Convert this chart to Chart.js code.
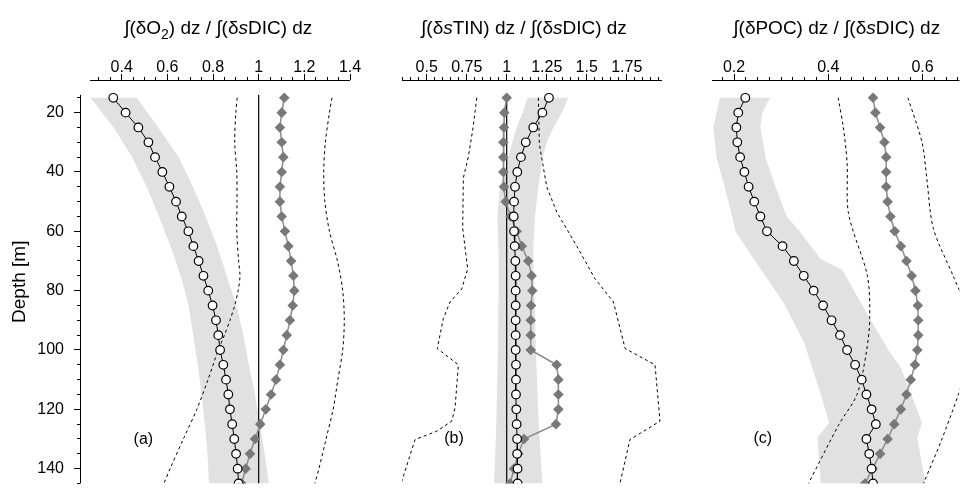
<!DOCTYPE html>
<html lang="en">

<head>
    <meta charset="UTF-8" />
    <title>Depth profiles</title>
    <script src="https://cdn.jsdelivr.net/npm/chart.js"></script>
    <style>
        body { margin: 0; background: #fff; }
        .panel { position: absolute; top: 0; }
    </style>
</head>

<body>
    <canvas id="panelA" class="panel" width="365" height="489" style="left:0px"></canvas>
    <canvas id="panelB" class="panel" width="300" height="489" style="left:380px"></canvas>
    <canvas id="panelC" class="panel" width="275" height="489" style="left:690px"></canvas>

<script>
    const FONT = '"Liberation Sans", Arial, Helvetica, sans-serif';

    // depth of the profile points (m)
    const depths = [15, 20, 25, 30, 35, 40, 45, 50, 55, 60, 65, 70, 75, 80, 85, 90, 95, 100, 105, 110, 115, 120, 125, 130, 135, 140, 145];
    const depthMajors = [20, 40, 60, 80, 100, 120, 140];

    // panel (a) O2
    const o2Circles = [0.363, 0.417, 0.473, 0.517, 0.546, 0.578, 0.609, 0.638, 0.663, 0.692, 0.714, 0.737, 0.758, 0.779, 0.798, 0.813, 0.823, 0.831, 0.845, 0.857, 0.867, 0.874, 0.884, 0.893, 0.901, 0.908, 0.912];
    const o2Diamonds = [1.112, 1.101, 1.093, 1.101, 1.108, 1.101, 1.093, 1.093, 1.101, 1.115, 1.130, 1.142, 1.152, 1.156, 1.149, 1.137, 1.123, 1.108, 1.093, 1.076, 1.054, 1.031, 1.007, 0.984, 0.962, 0.943, 0.925];
    const bandDepthA = [15, 25, 35, 45, 55, 65, 75, 85, 95, 105, 115, 125, 135, 145];
    const bandLoA = [0.263, 0.365, 0.446, 0.509, 0.563, 0.614, 0.658, 0.693, 0.713, 0.733, 0.750, 0.764, 0.776, 0.782];
    const bandHiA = [0.466, 0.560, 0.650, 0.712, 0.768, 0.818, 0.860, 0.903, 0.933, 0.957, 0.984, 1.004, 1.026, 1.045];
    const dashLoDepthA = [15, 20, 30, 40, 50, 60, 70, 75, 80, 85, 90, 95, 100, 110, 120, 130, 140, 145];
    const dashLoA = [0.906, 0.900, 0.895, 0.904, 0.905, 0.904, 0.912, 0.918, 0.910, 0.895, 0.874, 0.850, 0.823, 0.778, 0.729, 0.670, 0.612, 0.585];
    const dashHiDepthA = [15, 20, 30, 40, 50, 60, 70, 80, 90, 100, 110, 120, 130, 140, 145];
    const dashHiA = [1.321, 1.310, 1.292, 1.285, 1.290, 1.310, 1.345, 1.368, 1.375, 1.368, 1.347, 1.326, 1.295, 1.264, 1.246];
    const majorsA = [0.4, 0.6, 0.8, 1, 1.2, 1.4];

    // panel (b) TIN
    const tinCircles = [1.264, 1.223, 1.166, 1.119, 1.089, 1.066, 1.052, 1.046, 1.044, 1.046, 1.050, 1.054, 1.056, 1.056, 1.056, 1.056, 1.056, 1.056, 1.058, 1.058, 1.058, 1.060, 1.062, 1.065, 1.065, 1.068, 1.068];
    const tinDiamonds = [1.000, 0.985, 0.983, 0.979, 0.979, 0.979, 0.983, 0.994, 1.025, 1.062, 1.094, 1.135, 1.156, 1.160, 1.152, 1.150, 1.150, 1.150, 1.312, 1.323, 1.323, 1.323, 1.308, 1.108, 1.073, 1.046, 1.021];
    const bandDepthB = [15, 20, 25, 30, 35, 45, 55, 65, 75, 100, 125, 145];
    const bandLoB = [1.131, 1.100, 1.062, 1.035, 1.010, 0.958, 0.942, 0.948, 0.950, 0.945, 0.935, 0.921];
    const bandHiB = [1.385, 1.344, 1.292, 1.250, 1.225, 1.198, 1.177, 1.167, 1.170, 1.182, 1.200, 1.223];
    const dashLoDepthB = [15, 25, 35, 42, 59, 72.7, 79.4, 83.8, 89.4, 99.5, 105, 119.6, 124, 127.4, 130.2, 145];
    const dashLoB = [0.813, 0.790, 0.760, 0.729, 0.725, 0.756, 0.719, 0.646, 0.604, 0.566, 0.698, 0.677, 0.656, 0.562, 0.427, 0.340];
    const dashHiDepthB = [15, 30.6, 45, 53.5, 65, 76, 83.8, 99.5, 105, 124, 130.2, 145];
    const dashHiB = [1.198, 1.204, 1.250, 1.313, 1.438, 1.552, 1.667, 1.740, 1.927, 1.958, 1.770, 1.708];
    const majorsB = [0.5, 0.75, 1, 1.25, 1.5, 1.75];

    // panel (c) POC
    const pocCircles = [0.224, 0.209, 0.205, 0.207, 0.213, 0.222, 0.231, 0.243, 0.256, 0.270, 0.303, 0.327, 0.348, 0.369, 0.389, 0.407, 0.425, 0.440, 0.457, 0.471, 0.481, 0.492, 0.501, 0.481, 0.487, 0.492, 0.495];
    const pocDiamonds = [0.495, 0.500, 0.510, 0.519, 0.523, 0.523, 0.523, 0.526, 0.532, 0.541, 0.554, 0.566, 0.577, 0.585, 0.590, 0.591, 0.591, 0.589, 0.584, 0.575, 0.566, 0.554, 0.540, 0.526, 0.510, 0.494, 0.478];
    const bandLoDepthC = [15, 25, 35, 45, 55, 60, 70, 84, 98, 115, 124.5, 129.5, 145];
    const bandLoC = [0.170, 0.156, 0.163, 0.180, 0.196, 0.203, 0.245, 0.305, 0.350, 0.384, 0.402, 0.377, 0.384];
    const bandHiDepthC = [15, 20, 25, 35, 45, 55, 60, 69.3, 73, 89.4, 100.6, 106, 124.5, 129.5, 145];
    const bandHiC = [0.276, 0.260, 0.256, 0.267, 0.288, 0.312, 0.339, 0.384, 0.430, 0.488, 0.530, 0.554, 0.599, 0.589, 0.606];
    const dashLoDepthC = [15, 25, 37, 54, 75, 89.4, 100.6, 115, 125, 145];
    const dashLoC = [0.421, 0.432, 0.440, 0.443, 0.483, 0.488, 0.481, 0.461, 0.423, 0.358];
    const dashHiDepthC = [15, 30, 42, 59, 75, 85, 95, 105, 115, 130.5, 145];
    const dashHiC = [0.569, 0.599, 0.609, 0.623, 0.665, 0.690, 0.700, 0.695, 0.676, 0.640, 0.602];
    const majorsC = [0.2, 0.4, 0.6];

    const pts = (xs, ys) => xs.map((v, i) => ({ x: v, y: ys[i] }));
    const isMajor = (list, v) => list.some(m => Math.abs(m - v) < 1e-6);

    function stepTicks(from, to, step) {
        const out = [];
        const n = Math.round((to - from) / step);
        for (let i = 0; i <= n; i++) out.push(Math.round((from + i * step) * 1000) / 1000);
        return out;
    }

    // minor ticks: only the inner 3px of the 6px tick is drawn
    const MINOR_DASH = [0, 3, 3, 20];

    function circles(xs) {
        return {
            data: pts(xs, depths), showLine: true, borderColor: '#000', borderWidth: 1,
            pointStyle: 'circle', pointRadius: 4.3, pointBackgroundColor: '#fff',
            pointBorderColor: '#000', pointBorderWidth: 1.2
        };
    }
    function diamonds(xs) {
        return {
            data: pts(xs, depths), showLine: true, borderColor: '#8c8c8c', borderWidth: 1.5,
            pointStyle: 'rectRot', pointRadius: 5.3, pointBackgroundColor: '#787878',
            pointBorderColor: '#787878', pointBorderWidth: 0
        };
    }
    function dashed(xs, ys, tension) {
        return {
            data: pts(xs, ys), showLine: true, borderColor: '#000', borderWidth: 1,
            borderDash: [3, 3], pointRadius: 0, tension: tension
        };
    }
    function band(lo, loDepth, hi, hiDepth) {
        const poly = pts(lo, loDepth).concat(pts(hi, hiDepth).reverse());
        return {
            data: poly, showLine: true, borderColor: 'rgba(0,0,0,0)', borderWidth: 0,
            pointRadius: 0, fill: 'shape', backgroundColor: '#e1e1e1'
        };
    }
    function unitLine() {
        return {
            data: [{ x: 1, y: 14 }, { x: 1, y: 145 }], showLine: true,
            borderColor: '#000', borderWidth: 1.2, pointRadius: 0
        };
    }

    // axis lines, rich-text titles and panel tags
    const panelText = {
        id: 'panelText',
        afterDraw(chart, args, opts) {
            const { ctx, chartArea } = chart;
            const xs = chart.scales.x, ys = chart.scales.y;
            ctx.save();
            ctx.strokeStyle = '#000';
            ctx.lineWidth = 1;
            ctx.beginPath();
            const top = Math.round(chartArea.top) + 0.5;
            ctx.moveTo(xs.getPixelForValue(opts.spineFrom), top);
            ctx.lineTo(chartArea.right, top);
            if (opts.ySpine) {
                const left = Math.round(chartArea.left) + 0.5;
                ctx.moveTo(left, ys.getPixelForValue(opts.ySpine[0]));
                ctx.lineTo(left, ys.getPixelForValue(opts.ySpine[1]));
            }
            ctx.stroke();

            ctx.fillStyle = '#000';
            ctx.textBaseline = 'alphabetic';
            ctx.textAlign = 'left';
            const size = opts.titleSize;
            const fontFor = kind => kind === 'italic' ? `italic ${size}px ${FONT}`
                : kind === 'sub' ? `${Math.round(size * 0.75)}px ${FONT}` : `${size}px ${FONT}`;
            let total = 0;
            opts.title.forEach(([t, kind]) => { ctx.font = fontFor(kind); total += ctx.measureText(t).width; });
            let x = xs.getPixelForValue(opts.titleAt) - total / 2;
            opts.title.forEach(([t, kind]) => {
                ctx.font = fontFor(kind);
                ctx.fillText(t, x, opts.titleBase + (kind === 'sub' ? 5 : 0));
                x += ctx.measureText(t).width;
            });

            ctx.font = `16px ${FONT}`;
            ctx.textAlign = 'center';
            ctx.textBaseline = 'middle';
            ctx.fillText(opts.tag, xs.getPixelForValue(opts.tagAt[0]), ys.getPixelForValue(opts.tagAt[1]));
            ctx.restore();
        }
    };

    function makePanel(id, p) {
        const xTicks = p.xTicks;
        const yTicks = stepTicks(15, 145, 5);
        return new Chart(document.getElementById(id), {
            type: 'scatter',
            data: { datasets: p.datasets },
            options: {
                responsive: false,
                animation: false,
                events: [],
                layout: { padding: p.padding },
                scales: {
                    x: {
                        type: 'linear', position: 'top', min: p.xMin, max: p.xMax,
                        afterBuildTicks: s => { s.ticks = xTicks.map(v => ({ value: v })); },
                        afterFit: s => { s.height = 80; s.paddingLeft = 0; s.paddingRight = 0; },
                        ticks: {
                            autoSkip: false, maxRotation: 0, minRotation: 0, padding: -2, color: '#000',
                            font: { family: FONT, size: 16, lineHeight: 1 },
                            callback: v => isMajor(p.majors, v) ? String(v) : ''
                        },
                        grid: {
                            drawOnChartArea: false, tickLength: 6, tickColor: '#000', tickWidth: 1,
                            tickBorderDash: c => (c.tick && !isMajor(p.majors, c.tick.value)) ? MINOR_DASH : []
                        },
                        border: { display: false }
                    },
                    y: {
                        type: 'linear', reverse: true, min: 9, max: 145, display: p.showY,
                        afterBuildTicks: s => { s.ticks = yTicks.map(v => ({ value: v })); },
                        afterFit: s => {
                            s.width = p.showY ? 80 : 0;
                            s.paddingTop = 0;
                            s.paddingBottom = 0;
                        },
                        ticks: {
                            autoSkip: false, padding: 10, color: '#000',
                            font: { family: FONT, size: 16 },
                            callback: v => isMajor(depthMajors, v) ? String(v) : ''
                        },
                        grid: {
                            drawOnChartArea: false, tickLength: 6, tickColor: '#000', tickWidth: 1,
                            tickBorderDash: c => (c.tick && !isMajor(depthMajors, c.tick.value)) ? MINOR_DASH : []
                        },
                        border: { display: false },
                        title: {
                            display: true, text: 'Depth [m]', color: '#000',
                            font: { family: FONT, size: 19 }, padding: { top: 8, bottom: 0 }
                        }
                    }
                },
                plugins: {
                    legend: { display: false },
                    tooltip: { enabled: false },
                    panelText: p.text
                }
            },
            plugins: [panelText]
        });
    }

    makePanel('panelA', {
        padding: { left: 0, right: 15, top: 0, bottom: 3 },
        xMin: 0.2173, xMax: 1.4, showY: true,
        xTicks: stepTicks(0.3, 1.4, 0.05), majors: majorsA,
        datasets: [
            circles(o2Circles),
            diamonds(o2Diamonds),
            unitLine(),
            dashed(dashLoA, dashLoDepthA, 0.3),
            dashed(dashHiA, dashHiDepthA, 0.3),
            band(bandLoA, bandDepthA, bandHiA, bandDepthA)
        ],
        text: {
            spineFrom: 0.261, ySpine: [14, 145], titleAt: 0.823, titleBase: 33.5, titleSize: 19,
            title: [['∫(δO', ''], ['2', 'sub'], [') dz / ∫(δ', ''], ['s', 'italic'], ['DIC) dz', '']],
            tag: '(a)', tagAt: [0.495, 130.2]
        }
    });

    makePanel('panelB', {
        padding: { left: 22, right: 18, top: 0, bottom: 3 },
        xMin: 0.3456, xMax: 1.9706, showY: false,
        xTicks: stepTicks(0.35, 1.95, 0.05), majors: majorsB,
        datasets: [
            circles(tinCircles),
            diamonds(tinDiamonds),
            unitLine(),
            dashed(dashLoB, dashLoDepthB, 0),
            dashed(dashHiB, dashHiDepthB, 0),
            band(bandLoB, bandDepthB, bandHiB, bandDepthB)
        ],
        text: {
            spineFrom: 0.3456, titleAt: 1.108, titleBase: 33.5, titleSize: 19,
            title: [['∫(δ', ''], ['s', 'italic'], ['TIN) dz / ∫(δ', ''], ['s', 'italic'], ['DIC) dz', '']],
            tag: '(b)', tagAt: [0.671, 129.8]
        }
    });

    makePanel('panelC', {
        padding: { left: 22, right: 0, top: 0, bottom: 3 },
        xMin: 0.1533, xMax: 0.6785, showY: false,
        xTicks: stepTicks(0.175, 0.675, 0.025), majors: majorsC,
        datasets: [
            circles(pocCircles),
            diamonds(pocDiamonds),
            dashed(dashLoC, dashLoDepthC, 0.3),
            dashed(dashHiC, dashHiDepthC, 0.3),
            band(bandLoC, bandLoDepthC, bandHiC, bandHiDepthC)
        ],
        text: {
            spineFrom: 0.1533, titleAt: 0.418, titleBase: 33.5, titleSize: 19,
            title: [['∫(δPOC) dz / ∫(δ', ''], ['s', 'italic'], ['DIC) dz', '']],
            tag: '(c)', tagAt: [0.261, 129.8]
        }
    });
</script>
</body>

</html>
